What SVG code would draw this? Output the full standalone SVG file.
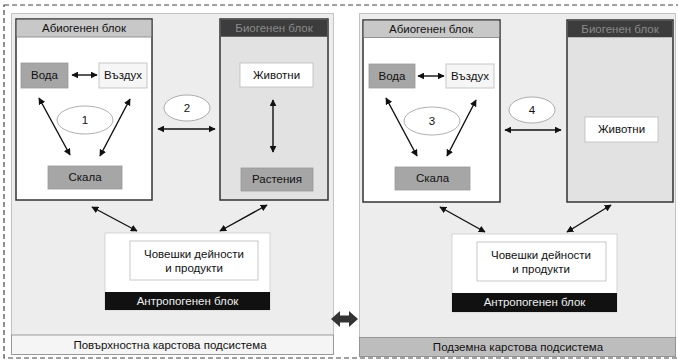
<svg xmlns="http://www.w3.org/2000/svg" width="678" height="360" viewBox="0 0 678 360">
<defs>
<marker id="ah" viewBox="0 0 10 10" refX="9" refY="5" markerWidth="7" markerHeight="7" orient="auto-start-reverse" markerUnits="userSpaceOnUse">
<path d="M0,0 L10,5 L0,10 z" fill="#111"/>
</marker>
<style>
text{font-family:"Liberation Sans",Arial,sans-serif;font-size:11.5px;text-anchor:middle;fill:#111}
.panel{fill:#ededed;stroke:#777;stroke-width:0.8;stroke-dasharray:1 1}
.blk{stroke:#333;stroke-width:1.5}
.hdrL{fill:#c8c8c8}
.hdrD{fill:#3c3c3c}
.mid{fill:#a6a6a6;stroke:#999;stroke-width:0.8}
.lt{fill:#f6f6f6;stroke:#bbb;stroke-width:0.8}
.wh{fill:#fff;stroke:#bbb;stroke-width:0.8}
.ell{fill:#fff;stroke:#999;stroke-width:0.8}
.con line{stroke:#111;stroke-width:1.4;marker-start:url(#ah);marker-end:url(#ah)}
</style>
</defs>
<rect x="0" y="0" width="678" height="360" fill="#fff"/>
<rect x="4" y="5" width="680" height="353" fill="none" stroke="#444" stroke-width="1.2" stroke-dasharray="5 3"/>

<g id="panel-left">
<rect class="panel" x="11.5" y="13.5" width="322" height="341"/>
<rect x="11.5" y="335" width="322" height="19.5" fill="#f5f5f5" stroke="#888" stroke-width="0.8"/>
<text x="170" y="349">Повърхностна карстова подсистема</text>
</g>
<g id="panel-right">
<rect class="panel" x="359.5" y="13.5" width="316" height="343"/>
<rect x="359.5" y="337.5" width="316" height="19" fill="#bdbdbd" stroke="#888" stroke-width="0.8"/>
<text x="518" y="351">Подземна карстова подсистема</text>
</g>

<g id="abio-left">
<rect class="blk" x="16" y="19" width="136" height="181" fill="#fff"/>
<rect class="hdrL" x="16.75" y="19.75" width="134.5" height="17"/>
<line x1="16" y1="37" x2="152" y2="37" stroke="#777" stroke-width="0.8"/>
<text x="84" y="32">Абиогенен блок</text>
</g>
<g id="voda-left"><rect class="mid" x="21" y="63" width="47" height="25"/><text x="44.5" y="79">Вода</text></g>
<g id="vazduh-left"><rect class="lt" x="99" y="63" width="48" height="25"/><text x="123" y="79">Въздух</text></g>
<g id="skala-left"><rect class="mid" x="48" y="166" width="74" height="23"/><text x="85" y="181">Скала</text></g>
<g id="e1"><ellipse class="ell" cx="85" cy="120" rx="28" ry="14"/><text x="85" y="124">1</text></g>
<g id="e2"><ellipse class="ell" cx="187" cy="108" rx="23" ry="13"/><text x="187" y="112">2</text></g>

<g id="bio-left">
<rect class="blk" x="220" y="19" width="108" height="181" fill="#e2e2e2"/>
<rect class="hdrD" x="220.75" y="19.75" width="106.5" height="17"/>
<text x="274" y="32" style="fill:#8a8a8a">Биогенен блок</text>
</g>
<g id="zhiv-left"><rect class="wh" x="240" y="63" width="73" height="24"/><text x="276.5" y="79">Животни</text></g>
<g id="rast-left"><rect class="mid" x="241" y="168" width="72" height="23"/><text x="277" y="183">Растения</text></g>

<g id="antro-left">
<rect x="105" y="233" width="165" height="77" fill="#fff" stroke="#ccc" stroke-width="0.8"/>
<rect class="wh" x="130" y="241" width="128" height="39"/>
<text x="194" y="258">Човешки дейности</text>
<text x="194" y="272">и продукти</text>
<rect x="105" y="292" width="165" height="18" fill="#111"/>
<text x="187.5" y="305" style="fill:#eee">Антропогенен блок</text>
</g>

<g id="abio-right">
<rect class="blk" x="363" y="20" width="137" height="182" fill="#fff"/>
<rect class="hdrL" x="363.75" y="20.75" width="135.5" height="16.5"/>
<line x1="363" y1="37.5" x2="500" y2="37.5" stroke="#777" stroke-width="0.8"/>
<text x="431" y="33">Абиогенен блок</text>
</g>
<g id="voda-right"><rect class="mid" x="369" y="64" width="46" height="24"/><text x="392" y="80">Вода</text></g>
<g id="vazduh-right"><rect class="lt" x="446" y="64" width="48" height="24"/><text x="470" y="80">Въздух</text></g>
<g id="skala-right"><rect class="mid" x="395" y="167" width="75" height="23"/><text x="432.5" y="182">Скала</text></g>
<g id="e3"><ellipse class="ell" cx="432" cy="121" rx="28" ry="14"/><text x="432" y="125">3</text></g>
<g id="e4"><ellipse class="ell" cx="532" cy="110" rx="23" ry="13"/><text x="532" y="114">4</text></g>

<g id="bio-right">
<rect class="blk" x="567" y="20" width="106" height="182" fill="#e2e2e2"/>
<rect class="hdrD" x="567.75" y="20.75" width="104.5" height="16.5"/>
<text x="620" y="33" style="fill:#8a8a8a">Биогенен блок</text>
</g>
<g id="zhiv-right"><rect class="wh" x="585" y="117" width="73" height="25"/><text x="621.5" y="133">Животни</text></g>

<g id="antro-right">
<rect x="452" y="234" width="165" height="78" fill="#fff" stroke="#ccc" stroke-width="0.8"/>
<rect class="wh" x="477" y="242" width="129" height="39"/>
<text x="541" y="259">Човешки дейности</text>
<text x="541" y="273">и продукти</text>
<rect x="452" y="293" width="165" height="19" fill="#111"/>
<text x="534.5" y="306" style="fill:#eee">Антропогенен блок</text>
</g>

<g id="connectors" class="con">
<line x1="72" y1="75" x2="97" y2="75"/>
<line x1="39" y1="98" x2="70" y2="155"/>
<line x1="130" y1="99" x2="100" y2="156"/>
<line x1="158" y1="129" x2="215" y2="129"/>
<line x1="273" y1="100" x2="273" y2="152"/>
<line x1="92" y1="207" x2="137" y2="231"/>
<line x1="267" y1="205" x2="220" y2="231"/>
<line x1="418" y1="76" x2="444" y2="76"/>
<line x1="386" y1="98" x2="417" y2="156"/>
<line x1="476" y1="100" x2="447" y2="156"/>
<line x1="505" y1="130" x2="561" y2="130"/>
<line x1="440" y1="207" x2="485" y2="232"/>
<line x1="611" y1="205" x2="567" y2="232"/>
</g>
<g id="link-panels">
<path d="M331,319 L340,311 L340,315.5 L349,315.5 L349,311 L358,319 L349,327 L349,322.5 L340,322.5 L340,327 Z" fill="#333"/>
</g>
</svg>
